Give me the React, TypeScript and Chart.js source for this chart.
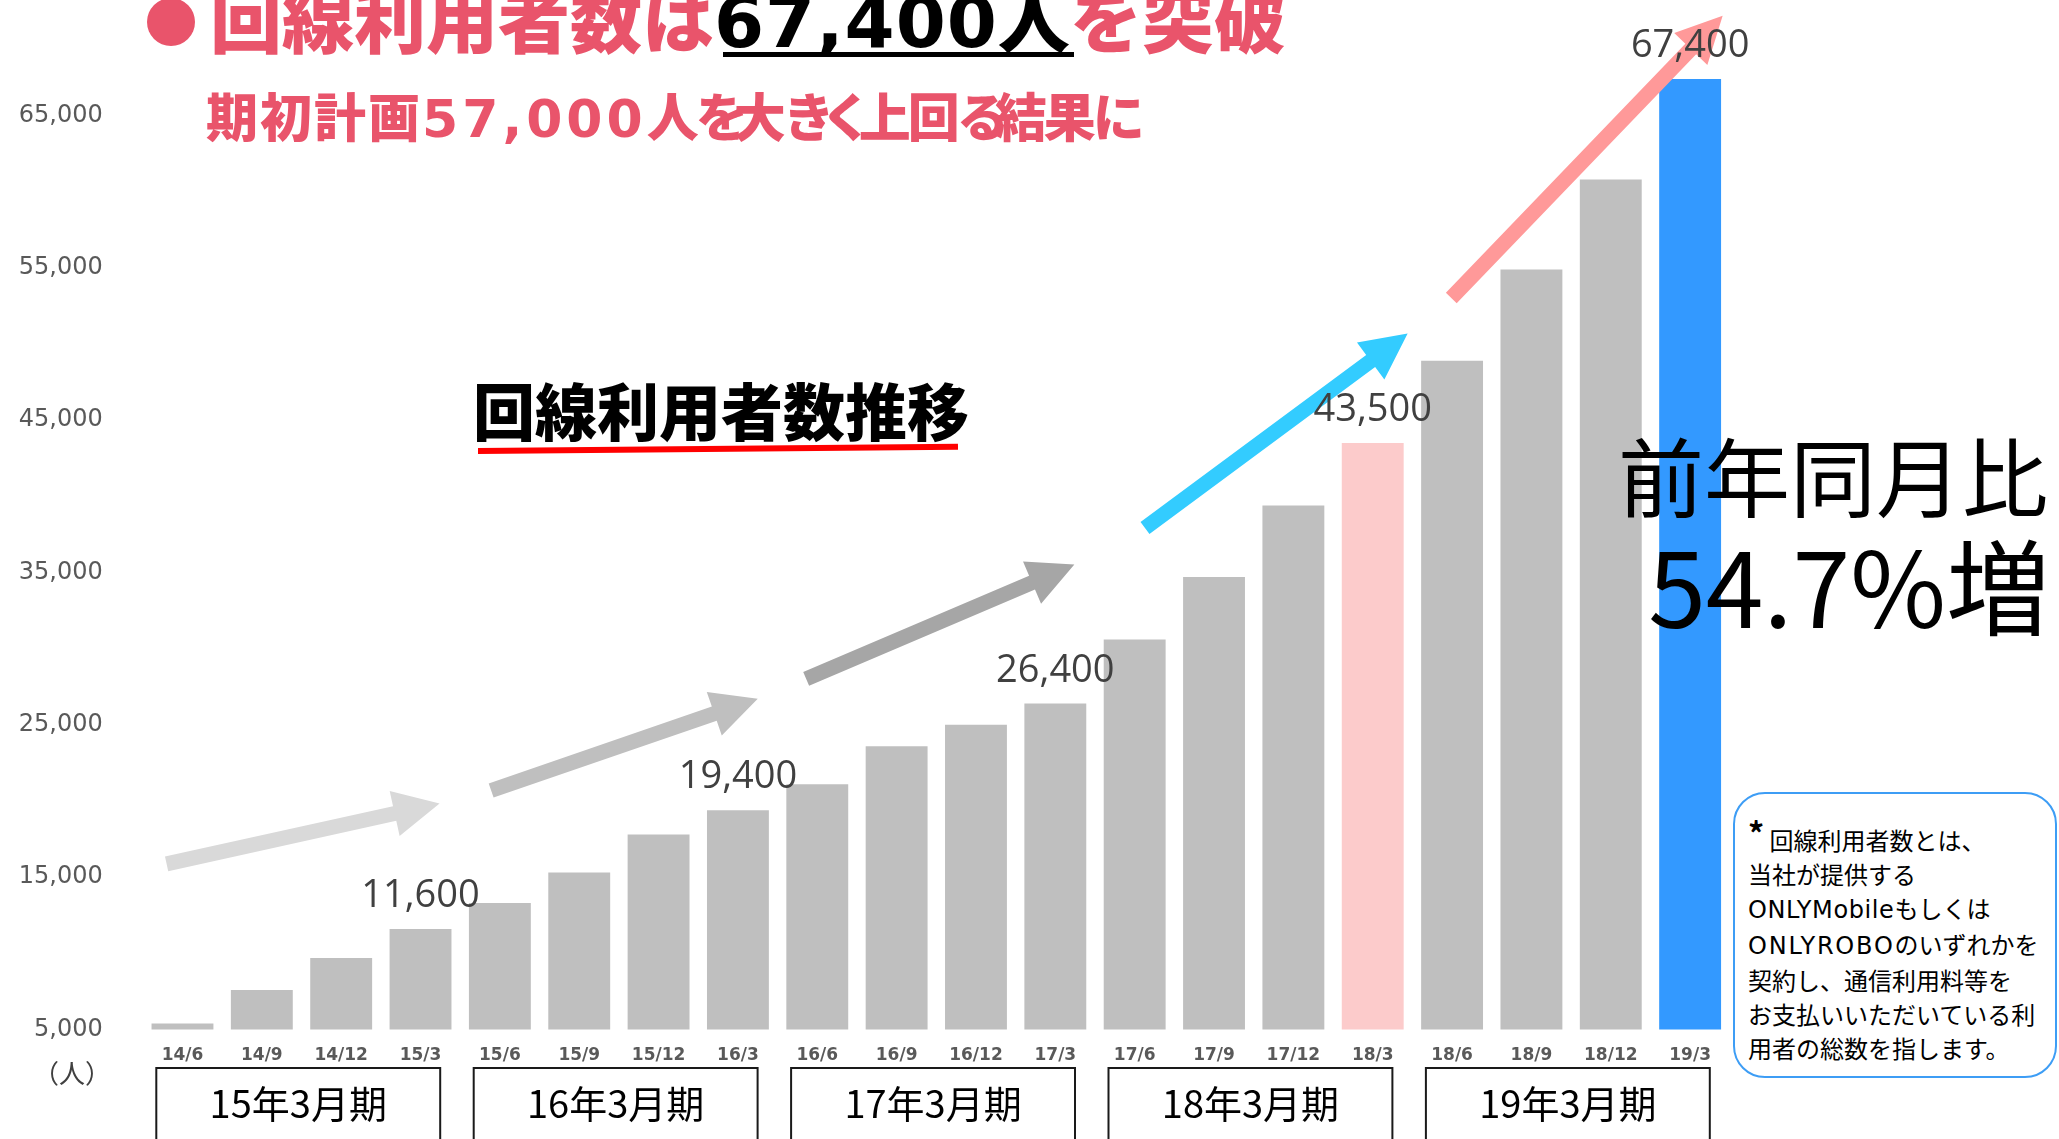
import React, { useEffect, useRef } from 'react';
import { Chart, registerables } from 'chart.js';

Chart.register(...registerables);

// ---- data ----
const categories = ['14/6', '14/9', '14/12', '15/3', '15/6', '15/9', '15/12', '16/3', '16/6', '16/9', '16/12', '17/3', '17/6', '17/9', '17/12', '18/3', '18/6', '18/9', '18/12', '19/3'];
const userCounts = [5400, 7600, 9700, 11600, 13300, 15300, 17800, 19400, 21100, 23600, 25000, 26400, 30600, 34700, 39400, 43500, 48900, 54900, 60800, 67400];
const yTickValues = [5000, 15000, 25000, 35000, 45000, 55000, 65000];
const labeledIndices = [3, 7, 11, 15, 19];
const periodLabels = ['15年3月期', '16年3月期', '17年3月期', '18年3月期', '19年3月期'];
// trend arrows, in data space: [category index, value]
const arrowStarts = [[-0.2, 15870], [3.89, 20690], [7.86, 28020], [12.13, 37920], [15.99, 53020]];
const arrowEnds = [[3.24, 19830], [7.25, 26720], [11.24, 35520], [15.44, 50690], [19.41, 71550]];

// ---- styles ----
const PINK = '#e9546b';
const GRAY_BAR = '#bfbfbf';
const PINK_BAR = '#fccbcb';
const BLUE_BAR = '#3399ff';
const ARROW_COLORS = ['#d9d9d9', '#bfbfbf', '#a6a6a6', '#33ccff', '#ff9999'];
const CJK = '"Noto Sans CJK JP", "Noto Sans", sans-serif';
const LATIN_CJK = '"DejaVu Sans", "Noto Sans CJK JP", sans-serif';

function drawArrow(ctx: CanvasRenderingContext2D, x1: number, y1: number, x2: number, y2: number, color: string) {
  const shaft = 15, headW = 46, headL = 46;
  const ang = Math.atan2(y2 - y1, x2 - x1);
  const len = Math.hypot(x2 - x1, y2 - y1);
  ctx.save();
  ctx.translate(x1, y1);
  ctx.rotate(ang);
  ctx.beginPath();
  ctx.moveTo(0, -shaft / 2);
  ctx.lineTo(len - headL, -shaft / 2);
  ctx.lineTo(len - headL, -headW / 2);
  ctx.lineTo(len, 0);
  ctx.lineTo(len - headL, headW / 2);
  ctx.lineTo(len - headL, shaft / 2);
  ctx.lineTo(0, shaft / 2);
  ctx.closePath();
  ctx.fillStyle = color;
  ctx.fill();
  ctx.restore();
}

const decorPlugin = {
  id: 'decor',
  afterDatasetsDraw(chart: any) {
    const ctx: CanvasRenderingContext2D = chart.ctx;
    const xs = chart.scales.x;
    const ys = chart.scales.y;
    // arrows
    arrowStarts.forEach((s, i) => {
      const e = arrowEnds[i];
      drawArrow(ctx, xs.getPixelForValue(s[0]), ys.getPixelForValue(s[1]), xs.getPixelForValue(e[0]), ys.getPixelForValue(e[1]), ARROW_COLORS[i]);
    });
    // value labels
    ctx.save();
    ctx.font = '38px "Open Sans", "DejaVu Sans", sans-serif';
    ctx.fillStyle = '#404040';
    ctx.textAlign = 'center';
    ctx.textBaseline = 'alphabetic';
    labeledIndices.forEach((i) => {
      const x = xs.getPixelForValue(i);
      const y = ys.getPixelForValue(userCounts[i]);
      ctx.fillText(userCounts[i].toLocaleString('en-US'), x, y - 22);
    });
    ctx.restore();
    // period boxes
    ctx.save();
    ctx.strokeStyle = '#1a1a1a';
    ctx.lineWidth = 2;
    ctx.fillStyle = '#000';
    ctx.font = '38px ' + CJK;
    ctx.textAlign = 'center';
    ctx.textBaseline = 'middle';
    const top = 1068;
    periodLabels.forEach((lab, g) => {
      const left = xs.getPixelForValue(4 * g - 0.5) + 13.5;
      const right = xs.getPixelForValue(4 * g + 3.5) - 20;
      ctx.beginPath();
      ctx.moveTo(left, chart.height + 5);
      ctx.lineTo(left, top);
      ctx.lineTo(right, top);
      ctx.lineTo(right, chart.height + 5);
      ctx.stroke();
      ctx.fillText(lab, (left + right) / 2, 1104);
    });
    ctx.restore();
  },
};

// proportional-looking Japanese: kana narrower than kanji
function Proportional({ text, kanji, kana }: { text: string; kanji: number; kana: number }) {
  return (
    <>
      {Array.from(text).map((ch, i) => (
        <span key={i} style={{ letterSpacing: /[\u3040-\u30ff]/.test(ch) ? kana + 'px' : kanji + 'px' }}>
          {ch}
        </span>
      ))}
    </>
  );
}

export default function App() {
  const canvasRef = useRef<HTMLCanvasElement | null>(null);

  useEffect(() => {
    const canvas = canvasRef.current;
    if (!canvas) return;
    const chart = new Chart(canvas, {
      type: 'bar',
      data: {
        labels: categories,
        datasets: [
          {
            data: userCounts,
            backgroundColor: categories.map((_, i) => (i === 19 ? BLUE_BAR : i === 15 ? PINK_BAR : GRAY_BAR)),
            barPercentage: 0.78,
            categoryPercentage: 1,
          },
        ],
      },
      options: {
        responsive: false,
        animation: false,
        devicePixelRatio: 1,
        layout: { padding: { left: 0, right: 329.2, top: 39.4, bottom: 0 } },
        plugins: { legend: { display: false }, tooltip: { enabled: false } },
        scales: {
          x: {
            grid: { display: false, drawTicks: false },
            border: { display: false },
            ticks: {
              color: '#595959',
              font: { family: '"DejaVu Sans", sans-serif', size: 17, weight: 'bold' },
              padding: 16,
              maxRotation: 0,
              autoSkip: false,
            },
            afterFit: (s: any) => {
              s.height = 109.5;
              s.paddingLeft = 0;
              s.paddingRight = 0;
              s.paddingTop = 0;
              s.paddingBottom = 0;
            },
          },
          y: {
            min: 5000,
            max: 70000,
            grid: { display: false, drawTicks: false },
            border: { display: false },
            ticks: {
              color: '#595959',
              font: { family: '"DejaVu Sans", sans-serif', size: 24 },
              padding: 40,
              callback: (v: any) => Number(v).toLocaleString('en-US'),
            },
            afterBuildTicks: (s: any) => {
              s.ticks = yTickValues.map((v) => ({ value: v }));
            },
            afterFit: (s: any) => {
              s.width = 142.8;
              s.paddingTop = 0;
              s.paddingBottom = 0;
              s.paddingLeft = 0;
              s.paddingRight = 0;
            },
          },
        },
      } as any,
      plugins: [decorPlugin],
    });
    return () => chart.destroy();
  }, []);

  const abs = (o: React.CSSProperties): React.CSSProperties => ({ position: 'absolute', whiteSpace: 'nowrap', margin: 0, ...o });
  const latin = (ls: number): React.CSSProperties => ({ fontFamily: LATIN_CJK, letterSpacing: ls + 'px' });

  return (
    <div style={{ position: 'absolute', left: 0, top: 0, width: 2059, height: 1139, overflow: 'hidden', background: '#fff' }}>
      <canvas ref={canvasRef} width={2059} height={1139} style={{ display: 'block', width: 2059, height: 1139 }} />

      {/* title */}
      <div style={abs({ left: 147, top: -2, width: 48, height: 48, borderRadius: '50%', background: PINK })} />
      <div style={abs({ left: 210, top: -20, fontFamily: CJK, fontWeight: 900, fontSize: 72, lineHeight: '72px', color: PINK })}>
        回線利用者数は
        <span style={{ color: '#000', fontFamily: '"DejaVu Sans", sans-serif', fontWeight: 700, letterSpacing: '1px' }}>67,400</span>
        <span style={{ color: '#000' }}>人</span>
        を突破
      </div>
      <div style={abs({ left: 723, top: 52, width: 351, height: 5, background: '#000' })} />

      {/* subtitle */}
      <div style={abs({ left: 206, top: 89, fontFamily: CJK, fontWeight: 900, fontSize: 52, lineHeight: '52px', color: PINK })}>
        <span style={{ letterSpacing: '2px' }}>期初計画</span>
        <span style={{ fontFamily: '"DejaVu Sans", sans-serif', fontWeight: 700, letterSpacing: '4px' }}>57,000</span>
        <Proportional text="人を大きく上回る結果に" kanji={-3} kana={-14} />
      </div>

      {/* chart caption */}
      <div style={abs({ left: 473, top: 378, fontFamily: CJK, fontWeight: 900, fontSize: 62, lineHeight: '62px', color: '#000' })}>回線利用者数推移</div>
      <div style={abs({ left: 478, top: 448, width: 480, height: 6, background: '#ff0000', transform: 'rotate(-0.5deg)', transformOrigin: 'left center' })} />

      {/* YoY */}
      <div style={abs({ right: 11, top: 431, fontFamily: CJK, fontWeight: 400, fontSize: 86, lineHeight: '86px', color: '#000' })}>前年同月比</div>
      <div style={abs({ right: 9, top: 531, fontFamily: CJK, fontWeight: 400, fontSize: 104, lineHeight: '104px', color: '#000' })}>54.7%増</div>

      {/* unit */}
      <div style={abs({ left: 33, top: 1057, fontFamily: CJK, fontSize: 26, lineHeight: '30px', color: '#404040' })}>（人）</div>

      {/* note */}
      <div
        style={abs({
          left: 1733,
          top: 792,
          width: 324,
          height: 286,
          boxSizing: 'border-box',
          border: '2.5px solid #3d9df5',
          borderRadius: 32,
          paddingTop: 29,
          paddingLeft: 13,
          fontFamily: CJK,
          fontSize: 24,
          lineHeight: '34px',
          color: '#000',
          background: '#fff',
        })}
      >
        <span style={{ fontSize: 32, fontWeight: 700, lineHeight: 0, verticalAlign: '4px' }}>*</span> 回線利用者数とは、
        <br />
        当社が提供する
        <br />
        <span style={latin(0.6)}>ONLYMobile</span>もしくは
        <br />
        <span style={latin(1.8)}>ONLYROBO</span>のいずれかを
        <br />
        契約し、通信利用料等を
        <br />
        お支払いいただいている利
        <br />
        用者の総数を指します。
      </div>
    </div>
  );
}
